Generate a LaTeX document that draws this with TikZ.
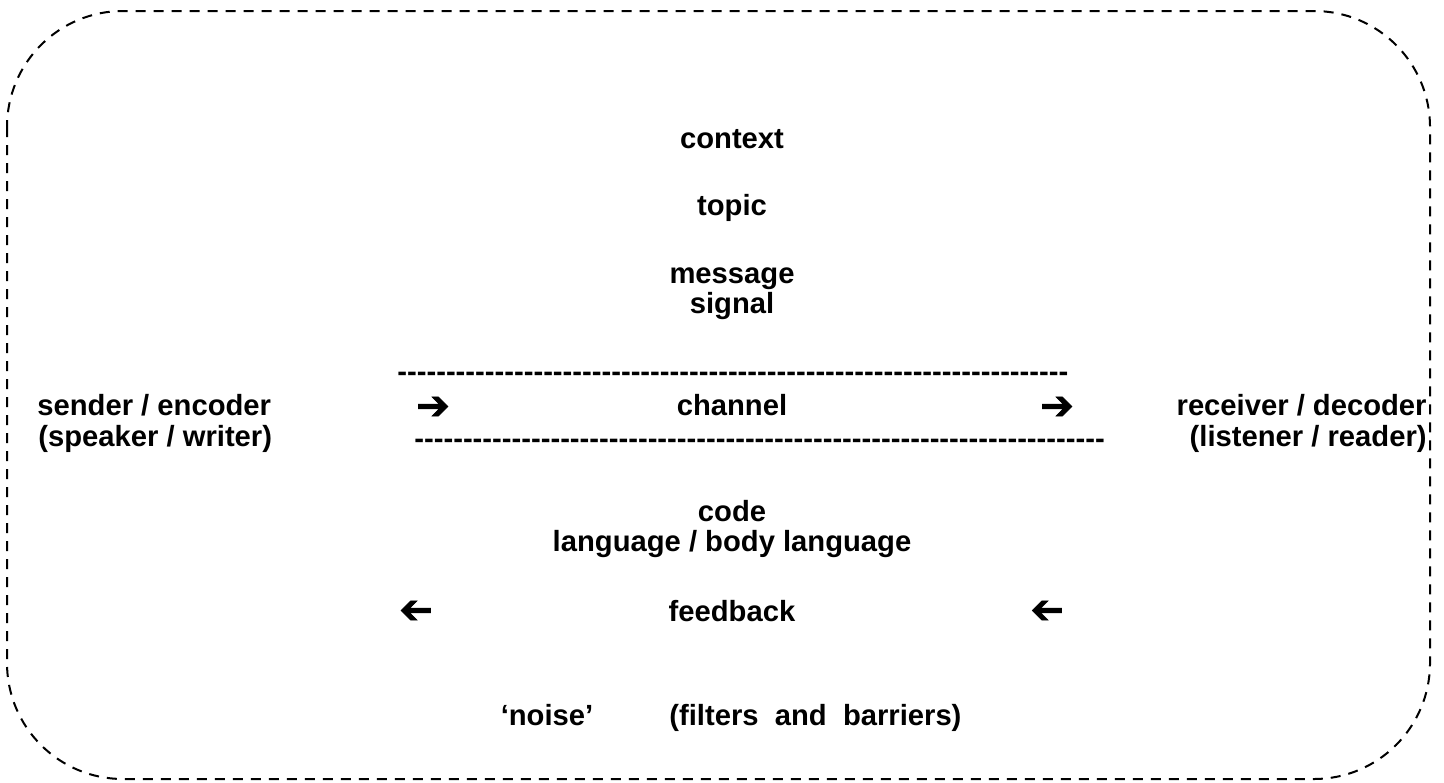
\documentclass[tikz,border=0pt]{standalone}
\usepackage{fontspec}
\setmainfont{Liberation Sans}
\newfontfamily\symfont[FakeBold=1.6]{DejaVu Sans}
\usetikzlibrary{positioning}
% row of hyphens, kept apart so that no dash ligature is formed
\newcommand\hyphenrow[1]{\foreach \i in {1,...,#1}{-\kern0pt}}
\tikzset {
  text node/.style = {
    inner sep = 0,
    anchor = base,
    font = \fontsize{14.6pt}{15.5pt}\selectfont\bfseries
  },
  % plain label
  word/.style = {
    text node
  },
  % left and right aligned labels
  lword/.style = {
    text node,
    anchor = base west
  },
  rword/.style = {
    text node,
    anchor = base east
  },
  % arrow sign
  pointer/.style = {
    inner sep = 0,
    font = \fontsize{20pt}{20pt}\symfont
  },
  % rule made of hyphens
  hyphens/.style = {
    text node,
    anchor = base west
  },
  dashed frame/.style = {
    draw = black,
    line width = 1pt,
    dash pattern = on 5pt off 4pt,
    rounded corners = 58pt
  }
}
\begin{document}
\begin{tikzpicture}[x=0.5pt, y=-0.5pt]
  \useasboundingbox (0,0) rectangle (1444,782);
  \draw[dashed frame] (7,11) rectangle (1430,779);

  \node[word] (context) at (732,148) {context};
  \node[word] (topic) at (732,215) {topic};
  \node[word] (message) at (732,283) {message};
  \node[word] (signal) at (732,313) {signal};

  \node[lword] (sender) at (37,415) {sender / encoder};
  \node[lword] (speaker) at (38,446) {(speaker / writer)};
  \node[rword] (receiver) at (1427,415) {receiver / decoder};
  \node[rword] (listener) at (1427,446) {(listener / reader)};

  \node[hyphens] (upper rule) at (397,381) {\hyphenrow{69}};
  \node[hyphens] (lower rule) at (414,448) {\hyphenrow{71}};
  \node[pointer] (to channel) at (433,408) {➔};
  \node[word] (channel) at (732,415) {channel};
  \node[pointer] (to receiver) at (1057,408) {➔};

  \node[word] (code) at (732,521) {code};
  \node[word] (language) at (732,551) {language / body language};

  \node[pointer] (back left) at (416,612) {\reflectbox{➔}};
  \node[word] (feedback) at (732,621) {feedback};
  \node[pointer] (back right) at (1047,612) {\reflectbox{➔}};

  \node[word] (noise) at (547,725) {‘noise’};
  \node[lword] (filters) at (669,725) {(filters\ \ and\ \ barriers)};
\end{tikzpicture}
\end{document}
